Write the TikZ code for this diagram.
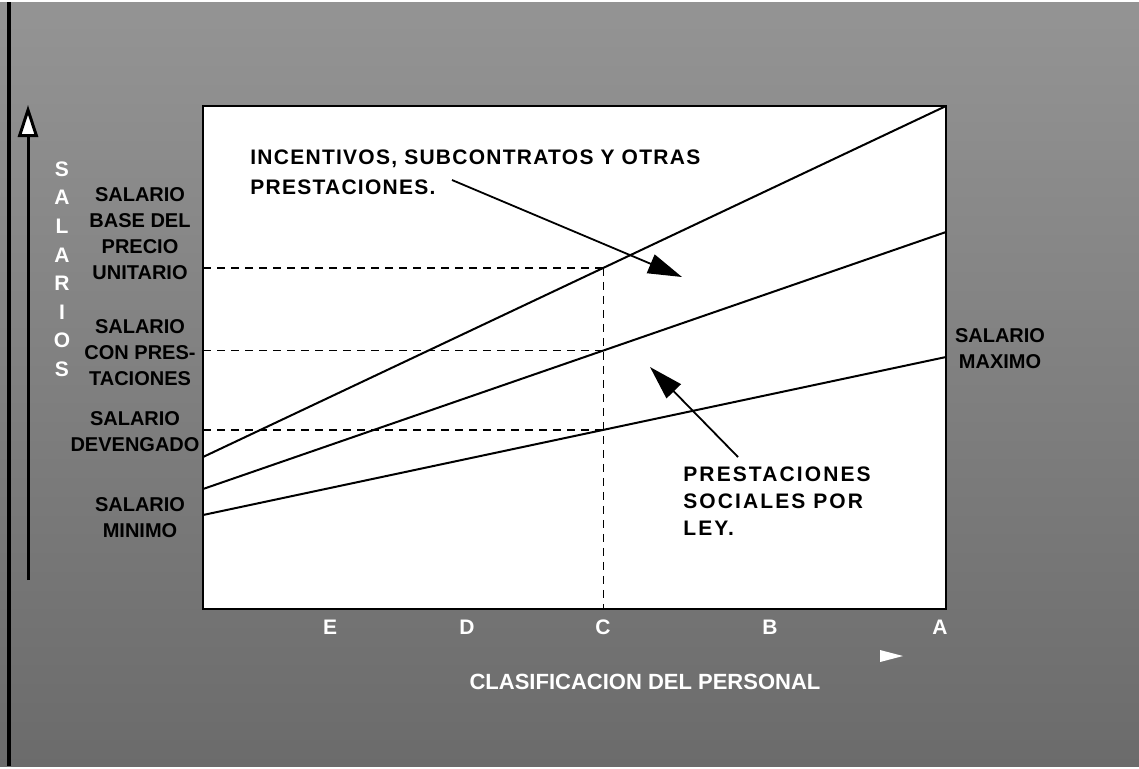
\documentclass[tikz,border=0pt]{standalone}
\usepackage{fontspec}
\setmainfont{Liberation Sans}
\usetikzlibrary{arrows.meta,calc,positioning}

\begin{document}
\begin{tikzpicture}[x=0.5pt,y=-0.5pt,
        panel/.style={fill=white, draw=black, line width=1.4pt},
        sal/.style={line width=1pt},
        guide/.style={line width=0.9pt, dash pattern=on 4pt off 3pt},
        pointer/.style={line width=0.9pt, -{Triangle[length=17pt,width=10pt]}},
        sidelbl/.style={font=\bfseries\fontsize{10}{13}\selectfont, align=center, inner sep=0pt},
        note/.style={font=\bfseries\fontsize{10.5}{15}\selectfont\addfontfeature{LetterSpace=6}, align=left, anchor=west, inner sep=0pt},
        axlbl/.style={white, font=\bfseries\fontsize{10.5}{13}\selectfont, inner sep=0pt}
    ]
        % fondo
        \shade[top color=black!42, bottom color=black!58] (0,0) rectangle (1139,764);
        \draw[line width=2pt] (9,0) -- (9,764);

        % recuadro
        \coordinate (pnw) at (203,104);
        \coordinate (pse) at (946,607);
        \draw[panel] (pnw) rectangle (pse);

        % rectas de salario
        \coordinate (topL) at (203,455);
        \coordinate (topR) at (946,104);
        \coordinate (midL) at (203,487);
        \coordinate (midR) at (946,230);
        \coordinate (lowL) at (203,513);
        \coordinate (lowR) at (946,355);
        \draw[sal] (topL) -- (topR);
        \draw[sal] (midL) -- (midR);
        \draw[sal] (lowL) -- (lowR);

        % categoria C
        \coordinate (cTop) at ($(topL)!0.539!(topR)$);
        \coordinate (cMid) at ($(midL)!0.539!(midR)$);
        \coordinate (cLow) at ($(lowL)!0.539!(lowR)$);
        \draw[guide] (cTop -| pnw) -- (cTop);
        \draw[guide] (cMid -| pnw) -- (cMid);
        \draw[guide] (cLow -| pnw) -- (cLow);
        \draw[guide] (cTop) -- (cTop |- pse);

        % textos del recuadro
        \node[note] (incent) at (250,170) {INCENTIVOS, SUBCONTRATOS Y OTRAS\\PRESTACIONES.};
        \node[note, font=\bfseries\fontsize{10.5}{13.5}\selectfont\addfontfeature{LetterSpace=10}] (prestley) at (683,499) {PRESTACIONES\\SOCIALES POR\\LEY.};
        \coordinate (incTail) at (452,178);
        \coordinate (incTip) at (682,275);
        \coordinate (leyTail) at (738,455);
        \coordinate (leyTip) at (650,365);
        \draw[pointer] (incTail) -- (incTip);
        \draw[pointer] (leyTail) -- (leyTip);

        % etiquetas laterales
        \node[sidelbl] (sbase) at (140,232) {SALARIO\\BASE DEL\\PRECIO\\UNITARIO};
        \node[sidelbl] (sprest) at (140,351) {SALARIO\\CON PRES-\\TACIONES};
        \node[sidelbl] (sdev) at (135,430) {SALARIO\\DEVENGADO};
        \node[sidelbl] (smin) at (140,516) {SALARIO\\MINIMO};
        \node[sidelbl] (smax) at (1000,347) {SALARIO\\MAXIMO};

        % eje vertical
        \coordinate (yFoot) at (28,578);
        \coordinate (yHead) at (28,103);
        \draw[line width=1.5pt, -{Triangle[open, fill=white, length=16pt, width=10pt]}] (yFoot) -- (yHead);
        \foreach \ch [count=\i from 0] in {S,A,L,A,R,I,O,S}
            \node[axlbl] (ylet\i) at (62,167+28.6*\i) {\ch};

        % eje horizontal
        \node[axlbl] (catE) at (330,625) {E};
        \node[axlbl] (catD) at (467,625) {D};
        \node[axlbl] (catC) at (603,625) {C};
        \node[axlbl] (catB) at (770,625) {B};
        \node[axlbl] (catA) at (940,625) {A};
        \fill[white] (880,648) -- (903,654) -- (880,660) -- cycle;
        \node[axlbl, font=\bfseries\fontsize{11}{13}\selectfont] (clasif) at (645,680) {CLASIFICACION DEL PERSONAL};
    \end{tikzpicture}
\end{document}
